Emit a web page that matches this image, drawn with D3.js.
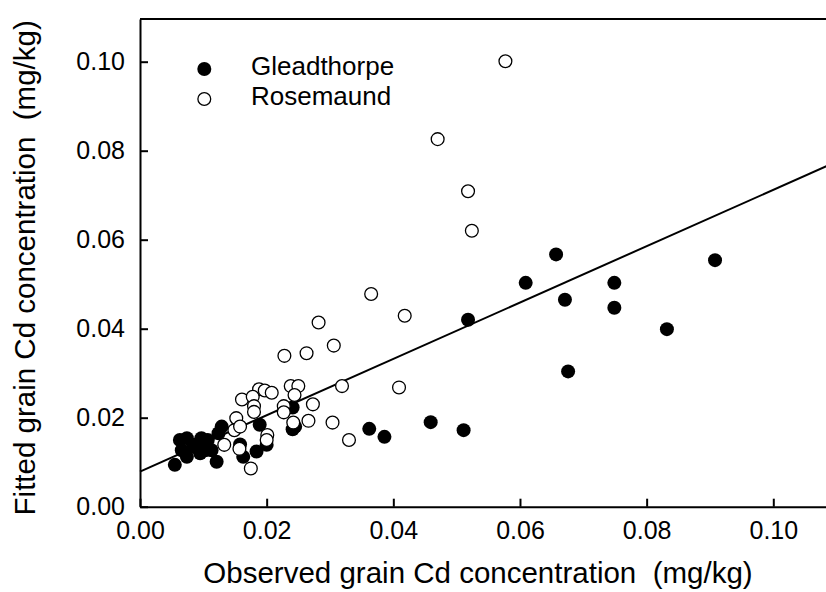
<!DOCTYPE html>
<html>
<head>
<meta charset="utf-8">
<script src="https://cdn.jsdelivr.net/npm/d3@7"></script>
<style>
  html, body { margin: 0; padding: 0; background: #fff; }
  svg { display: block; font-family: "Liberation Sans", Arial, sans-serif; }
  .title { white-space: pre; }
</style>
</head>
<body>
<svg id="chart" width="826" height="592"></svg>
<script>
// ---- Data ----
const seriesNames = ["Gleadthorpe", "Rosemaund"];

const gleadX = [0.0055, 0.0063, 0.0074, 0.0066, 0.0074, 0.0084, 0.0097, 0.0103, 0.0095, 0.0113,
                0.0121, 0.0129, 0.0124, 0.0107, 0.0088, 0.0158, 0.0163, 0.0184, 0.0189, 0.0200,
                0.0241, 0.0241, 0.0245, 0.0362, 0.0386, 0.0459, 0.0511, 0.0518, 0.0609, 0.0657,
                0.0671, 0.0676, 0.0749, 0.0749, 0.0832, 0.0908];
const gleadY = [0.0094, 0.0150, 0.0154, 0.0127, 0.0112, 0.0135, 0.0154, 0.0127, 0.0120, 0.0127,
                0.0101, 0.0180, 0.0165, 0.0150, 0.0140, 0.0140, 0.0112, 0.0124, 0.0184, 0.0139,
                0.0223, 0.0174, 0.0180, 0.0175, 0.0157, 0.0190, 0.0172, 0.0420, 0.0503, 0.0567,
                0.0465, 0.0304, 0.0503, 0.0447, 0.0399, 0.0554];

const roseX = [0.0577, 0.0470, 0.0518, 0.0524, 0.0365, 0.0418, 0.0282, 0.0306, 0.0263, 0.0228,
               0.0319, 0.0409, 0.0304, 0.0330, 0.0273, 0.0266, 0.0238, 0.0250, 0.0244, 0.0227,
               0.0227, 0.0242, 0.0188, 0.0197, 0.0208, 0.0161, 0.0178, 0.0180, 0.0180, 0.0152,
               0.0149, 0.0133, 0.0157, 0.0175, 0.0201, 0.0200, 0.0158];
const roseY = [0.1001, 0.0826, 0.0709, 0.0620, 0.0478, 0.0429, 0.0414, 0.0362, 0.0345, 0.0339,
               0.0271, 0.0268, 0.0189, 0.0150, 0.0230, 0.0193, 0.0271, 0.0271, 0.0251, 0.0226,
               0.0212, 0.0189, 0.0264, 0.0261, 0.0256, 0.0241, 0.0247, 0.0226, 0.0213, 0.0199,
               0.0172, 0.0139, 0.0130, 0.0086, 0.0161, 0.0150, 0.0180];

// fitted regression line: y = intercept + slope * x
const fitIntercept = 0.0079;
const fitSlope = 0.633;

const xTicks = [0.00, 0.02, 0.04, 0.06, 0.08, 0.10];
const yTicks = [0.00, 0.02, 0.04, 0.06, 0.08, 0.10];
const xDomain = [0, 0.11];
const yDomain = [0, 0.1096];

const xTitle = "Observed grain Cd concentration  (mg/kg)";
const yTitle = "Fitted grain Cd concentration  (mg/kg)";

// ---- Layout ----
const svg = d3.select("#chart");
const left = 140, bottom = 506.7;
const pxPerUnitX = 6333, pxPerUnitY = 4450;

const x = d3.scaleLinear().domain(xDomain).range([left, left + pxPerUnitX * xDomain[1]]);
const y = d3.scaleLinear().domain(yDomain).range([bottom, bottom - pxPerUnitY * yDomain[1]]);

const fmt = d3.format(".2f");
const tickFont = 25;

// top frame line
svg.append("line")
  .attr("x1", x(0)).attr("x2", x(xDomain[1]))
  .attr("y1", y(yDomain[1])).attr("y2", y(yDomain[1]))
  .attr("stroke", "#000").attr("stroke-width", 2);

// axes
const xAxis = svg.append("g")
  .attr("transform", `translate(0,${bottom})`)
  .call(d3.axisBottom(x).tickValues(xTicks).tickFormat(fmt).tickSizeInner(-8).tickSizeOuter(0).tickPadding(15));
const yAxis = svg.append("g")
  .attr("transform", `translate(${left},0)`)
  .call(d3.axisLeft(y).tickValues(yTicks).tickFormat(fmt).tickSizeInner(-8).tickSizeOuter(0).tickPadding(15));

[xAxis, yAxis].forEach(g => {
  g.select(".domain").attr("stroke", "#000").attr("stroke-width", 2);
  g.selectAll(".tick line").attr("stroke", "#000").attr("stroke-width", 2);
  g.selectAll(".tick text")
    .attr("fill", "#000")
    .style("font-family", "'Liberation Sans', Arial, sans-serif")
    .style("font-size", tickFont + "px");
});

// regression line
svg.append("line")
  .attr("x1", x(0)).attr("y1", y(fitIntercept))
  .attr("x2", x(xDomain[1])).attr("y2", y(fitIntercept + fitSlope * xDomain[1]))
  .attr("stroke", "#000").attr("stroke-width", 2);

// points
const glead = gleadX.map((v, i) => ({ x: v, y: gleadY[i] }));
const rose = roseX.map((v, i) => ({ x: v, y: roseY[i] }));

svg.append("g").selectAll("circle").data(glead).join("circle")
  .attr("cx", d => x(d.x)).attr("cy", d => y(d.y)).attr("r", 7)
  .attr("fill", "#000");

svg.append("g").selectAll("circle").data(rose).join("circle")
  .attr("cx", d => x(d.x)).attr("cy", d => y(d.y)).attr("r", 6.4)
  .attr("fill", "#fff").attr("stroke", "#000").attr("stroke-width", 1.3);

// legend
const legend = svg.append("g");
const legendItems = [
  { name: seriesNames[0], filled: true, cy: 69 },
  { name: seriesNames[1], filled: false, cy: 99 }
];
legendItems.forEach(it => {
  legend.append("circle")
    .attr("cx", 204.3).attr("cy", it.cy).attr("r", it.filled ? 7 : 6.4)
    .attr("fill", it.filled ? "#000" : "#fff")
    .attr("stroke", it.filled ? "none" : "#000").attr("stroke-width", 1.3);
  legend.append("text")
    .attr("x", 251).attr("y", it.cy + 6)
    .style("font-size", "26px").attr("fill", "#000")
    .text(it.name);
});

// axis titles
svg.append("text")
  .attr("class", "title")
  .attr("x", (x(0) + 826) / 2 - 5).attr("y", 583)
  .attr("text-anchor", "middle")
  .style("font-size", "29.5px").attr("fill", "#000")
  .text(xTitle);

svg.append("text")
  .attr("class", "title")
  .attr("transform", `translate(35,${(y(yDomain[1]) + bottom) / 2 + 5}) rotate(-90)`)
  .attr("text-anchor", "middle")
  .style("font-size", "29.5px").attr("fill", "#000")
  .text(yTitle);
</script>
</body>
</html>
